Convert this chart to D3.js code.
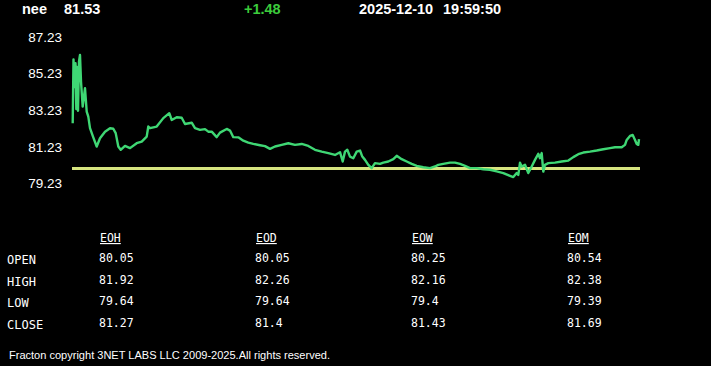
<!DOCTYPE html>
<html>
<head>
<meta charset="utf-8">
<script src="https://cdn.jsdelivr.net/npm/d3@7"></script>
<style>
  html, body { margin: 0; padding: 0; background: #000; }
  svg { display: block; }
</style>
</head>
<body>
<div id="quote-chart"></div>
<script>
// header
var symbol = "nee";
var lastPrice = "81.53";
var change = "+1.48";
var quoteDate = "2025-12-10";
var quoteTime = "19:59:50";
var prevClose = 80.05;

// y axis ticks
var yTicks = [79.23, 81.23, 83.23, 85.23, 87.23];

// price trace (sample position, price)
var minutes = [0.7, 1.5, 2.5, 3.5, 4.3, 5, 6, 7, 8, 9, 10.7, 12, 13, 14.7, 16.3, 18, 21, 24.7, 28, 33, 38, 41.3, 43.7, 46.3, 48.7, 53, 58, 64.7, 69.7, 74.7, 76.3, 78, 84.7, 91.3, 97.3, 99.7, 104.7, 109.7, 113, 119.7, 123, 128, 133, 136.3, 139.7, 144.7, 148, 154.7, 158, 161.3, 166.3, 171.3, 176.3, 181.3, 188, 193, 198, 203, 209.7, 216.3, 223, 229.7, 236.3, 243, 249.7, 256.3, 263, 268, 270.7, 273, 275.3, 278, 281.3, 284.7, 288, 290.3, 293, 296.3, 299.7, 303, 308, 311.3, 316.3, 321.3, 324.7, 329.7, 334.7, 339.7, 344.7, 351.3, 358, 363, 366.3, 371.3, 378, 383, 388, 393, 398, 404.7, 411.3, 418, 424.7, 431.3, 438, 441.3, 444.7, 446.3, 448, 449.7, 453, 456.3, 459.7, 463, 466.3, 468, 469.7, 471.3, 473, 476.3, 483, 489.7, 496.3, 501.3, 506.3, 511.3, 518, 524.7, 531.3, 538, 543, 549.7, 553, 554.7, 558, 560.7, 563, 564.7, 566.3, 567];
var prices = [82.52, 86.0, 84.5, 85.8, 83.3, 85.6, 83.2, 85.9, 86.25, 84.8, 83.43, 84.0, 84.43, 83.16, 82.88, 82.25, 81.79, 81.25, 81.70, 82.06, 82.25, 82.22, 81.98, 81.25, 81.07, 81.28, 81.16, 81.43, 81.52, 81.79, 82.34, 82.25, 82.34, 82.80, 83.07, 82.70, 82.85, 82.82, 82.48, 82.55, 82.25, 82.16, 82.20, 82.06, 82.06, 81.76, 82.01, 82.21, 82.12, 81.76, 81.75, 81.57, 81.46, 81.39, 81.32, 81.27, 81.12, 81.25, 81.34, 81.43, 81.34, 81.39, 81.28, 81.07, 80.97, 80.89, 80.79, 80.94, 80.43, 80.97, 81.07, 80.70, 80.61, 80.97, 81.03, 80.70, 80.52, 80.25, 80.07, 80.34, 80.30, 80.37, 80.43, 80.56, 80.74, 80.56, 80.43, 80.30, 80.19, 80.12, 80.07, 80.16, 80.25, 80.30, 80.37, 80.37, 80.30, 80.19, 80.07, 80.07, 80.01, 79.98, 79.89, 79.80, 79.65, 79.58, 79.80, 79.70, 80.37, 80.15, 80.25, 79.80, 80.16, 80.52, 80.85, 80.61, 80.89, 79.88, 80.25, 80.34, 80.37, 80.43, 80.48, 80.67, 80.83, 80.92, 80.97, 81.03, 81.10, 81.16, 81.21, 81.21, 81.34, 81.61, 81.83, 81.88, 81.61, 81.39, 81.34, 81.65];

// summary table
var periods = ["EOH", "EOD", "EOW", "EOM"];
var rowNames = ["OPEN", "HIGH", "LOW", "CLOSE"];
var openVals = ["80.05", "80.05", "80.25", "80.54"];
var highVals = ["81.92", "82.26", "82.16", "82.38"];
var lowVals = ["79.64", "79.64", "79.4", "79.39"];
var closeVals = ["81.27", "81.4", "81.43", "81.69"];

var footer = "Fracton copyright 3NET LABS LLC 2009-2025.All rights reserved.";

var W = 711, H = 366;
var svg = d3.select("#quote-chart").append("svg")
  .attr("width", W).attr("height", H)
  .style("background", "#000");

// header line
var hdr = svg.append("g")
  .style("font-family", "'Liberation Sans', Arial, sans-serif")
  .style("font-weight", "bold")
  .style("font-size", "14.5px");
hdr.append("text").attr("x", 22).attr("y", 14).attr("fill", "#fff").text(symbol);
hdr.append("text").attr("x", 64).attr("y", 14).attr("fill", "#fff").text(lastPrice);
hdr.append("text").attr("x", 244).attr("y", 14).attr("fill", "#3ccc3c").text(change);
hdr.append("text").attr("x", 359).attr("y", 14).attr("fill", "#fff").text(quoteDate);
hdr.append("text").attr("x", 443).attr("y", 14).attr("fill", "#fff").text(quoteTime);

// scales
var x = d3.scaleLinear().domain([0, 567]).range([72, 639]);
var y = d3.scaleLinear().domain([79.23, 87.23]).range([183.5, 37]);

svg.append("g")
  .selectAll("text")
  .data(yTicks)
  .enter()
  .append("text")
  .attr("x", 62)
  .attr("y", function (d) { return y(d); })
  .attr("dy", "0.36em")
  .attr("text-anchor", "end")
  .attr("fill", "#fff")
  .style("font-family", "'Liberation Sans', Arial, sans-serif")
  .style("font-size", "13.5px")
  .text(function (d) { return d.toFixed(2); });

// previous close line
svg.append("line")
  .attr("x1", x(0)).attr("x2", x(567) + 1)
  .attr("y1", y(prevClose)).attr("y2", y(prevClose))
  .attr("stroke", "#d6e47f")
  .attr("stroke-width", 2.8);

// price line
var pts = minutes.map(function (m, i) { return [m, prices[i]]; });
var line = d3.line()
  .x(function (d) { return x(d[0]); })
  .y(function (d) { return y(d[1]); });

svg.append("path")
  .datum(pts)
  .attr("d", line)
  .attr("fill", "none")
  .attr("stroke", "#3fd774")
  .attr("stroke-width", 2.4)
  .attr("stroke-linejoin", "round");

// table
var mono = "'DejaVu Sans Mono', 'Liberation Mono', monospace";
var colX = [100, 256, 412, 568];
var rowY = [259, 281, 302, 324];
var rows = [openVals, highVals, lowVals, closeVals];

svg.append("g")
  .selectAll("text")
  .data(periods)
  .enter()
  .append("text")
  .attr("x", function (d, i) { return colX[i]; })
  .attr("y", 242)
  .attr("fill", "#fff")
  .style("font-family", mono)
  .style("font-size", "11.5px")
  .style("text-decoration", "underline")
  .text(function (d) { return d; });

svg.append("g")
  .selectAll("text")
  .data(rowNames)
  .enter()
  .append("text")
  .attr("x", 7)
  .attr("y", function (d, i) { return rowY[i] + 5; })
  .attr("fill", "#fff")
  .style("font-family", mono)
  .style("font-size", "12px")
  .text(function (d) { return d; });

rows.forEach(function (vals, r) {
  svg.append("g")
    .selectAll("text")
    .data(vals)
    .enter()
    .append("text")
    .attr("x", function (d, i) { return colX[i] - 1; })
    .attr("y", rowY[r] + 3)
    .attr("fill", "#fff")
    .style("font-family", mono)
    .style("font-size", "11.5px")
    .text(function (d) { return d; });
});

svg.append("text")
  .attr("x", 9)
  .attr("y", 359)
  .attr("fill", "#fff")
  .style("font-family", "'Liberation Sans', Arial, sans-serif")
  .style("font-size", "11px")
  .attr("textLength", 321)
  .attr("lengthAdjust", "spacingAndGlyphs")
  .text(footer);
</script>
</body>
</html>
